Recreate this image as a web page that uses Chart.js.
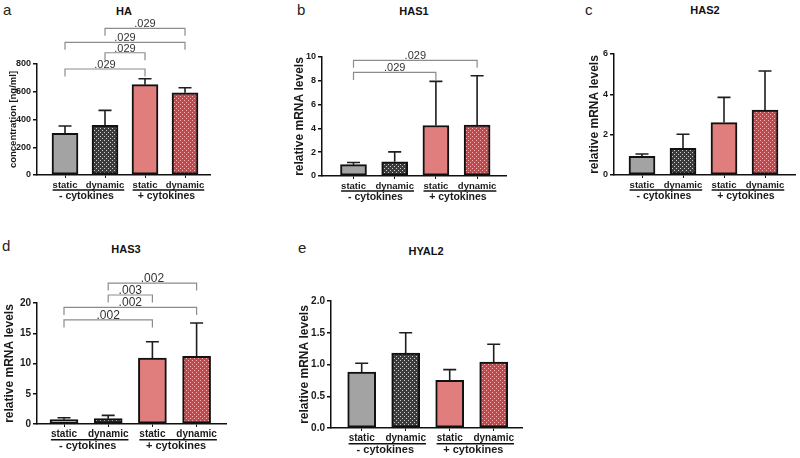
<!DOCTYPE html>
<html>
<head>
<meta charset="utf-8">
<script src="https://cdn.jsdelivr.net/npm/chart.js@4"></script>
<style>
  body { margin: 0; background: #fff; }
  #wrap { position: relative; width: 800px; height: 458px; overflow: hidden; font-family: "Liberation Sans", Arial, sans-serif; }
  canvas { position: absolute; left: 0; top: 0; }
  .letter { position: absolute; font-size: 15px; color: #222; line-height: 1; }
  .title { position: absolute; width: 120px; text-align: center; font-weight: bold; font-size: 11px; color: #111; line-height: 1; }
</style>
</head>
<body>
<div id="wrap">
  <div class="letter" style="left:3px;top:2px">a</div>
  <div class="letter" style="left:297px;top:2px">b</div>
  <div class="letter" style="left:585px;top:2px">c</div>
  <div class="letter" style="left:2px;top:238px">d</div>
  <div class="letter" style="left:298px;top:240px">e</div>
  <div class="title" style="left:64px;top:6px">HA</div>
  <div class="title" style="left:354px;top:6px">HAS1</div>
  <div class="title" style="left:645px;top:5px">HAS2</div>
  <div class="title" style="left:66px;top:244px">HAS3</div>
  <div class="title" style="left:366px;top:246px">HYAL2</div>
  <canvas id="cA" width="800" height="458"></canvas>
  <canvas id="cB" width="800" height="458"></canvas>
  <canvas id="cC" width="800" height="458"></canvas>
  <canvas id="cD" width="800" height="458"></canvas>
  <canvas id="cE" width="800" height="458"></canvas>
</div>
<script>
// ---------- data ----------
const conditions = ["static", "dynamic", "static", "dynamic"];
const cytokineGroups = ["- cytokines", "+ cytokines"];

const haMean = [300, 358, 651, 593];
const haSD = [53, 108, 43, 36];
const haTicks = [0, 200, 400, 600, 800];

const has1Mean = [0.95, 1.2, 4.24, 4.27];
const has1SD = [0.19, 0.83, 3.71, 4.15];
const has1Ticks = [0, 2, 4, 6, 8, 10];

const has2Mean = [0.93, 1.32, 2.6, 3.22];
const has2SD = [0.11, 0.7, 1.25, 1.94];
const has2Ticks = [0, 2, 4, 6];

const has3Mean = [0.72, 0.88, 10.9, 11.2];
const has3SD = [0.32, 0.55, 2.7, 5.5];
const has3Ticks = [0, 5, 10, 15, 20];

const hyal2Mean = [0.88, 1.18, 0.75, 1.04];
const hyal2SD = [0.14, 0.32, 0.17, 0.28];
const hyal2Ticks = [0, 0.5, 1.0, 1.5, 2.0];

// significance brackets: [from bar, to bar, p label, height in data units]
const haBrackets = [[1, 3, ".029", 764], [2, 3, ".029", 881], [1, 4, ".029", 956], [2, 4, ".029", 1057]];
const has1Brackets = [[1, 3, ".029", 8.7], [1, 4, ".029", 9.72]];
const has3Brackets = [[1, 3, ".002", 17.2], [1, 4, ".002", 19.27], [2, 3, ".003", 21.32], [2, 4, ".002", 23.3]];

// ---------- fills ----------
const FONT = "'Liberation Sans', Arial, sans-serif";

function makePattern(bg, dot, size, dotSize) {
    const c = document.createElement("canvas");
    c.width = c.height = size;
    const g = c.getContext("2d");
    g.fillStyle = bg;
    g.fillRect(0, 0, size, size);
    g.fillStyle = dot;
    g.fillRect(0, 0, dotSize, dotSize);
    g.fillRect(size / 2, size / 2, dotSize, dotSize);
    return g.createPattern(c, "repeat");
}

const fills = [
    "#a3a3a3",
    makePattern("#3c3c3c", "#cfcfcf", 4, 1),
    "#e07e7e",
    makePattern("#c4474c", "#f2b4b4", 4, 1)
];

// ---------- extras: error bars, brackets, group labels ----------
const extrasPlugin = {
    id: "extras",
    afterDatasetsDraw(chart, args, o) {
        const ctx = chart.ctx;
        const xs = chart.scales.x;
        const ys = chart.scales.y;
        ctx.save();

        // error bars (mean + SD)
        ctx.strokeStyle = "#1e1e1e";
        ctx.lineWidth = 1.6;
        o.mean.forEach((m, i) => {
            const px = xs.getPixelForValue(i + 1);
            const y0 = ys.getPixelForValue(m);
            const y1 = ys.getPixelForValue(m + o.sd[i]);
            ctx.beginPath();
            ctx.moveTo(px, y0);
            ctx.lineTo(px, y1);
            ctx.moveTo(px - 6.5, y1);
            ctx.lineTo(px + 6.5, y1);
            ctx.stroke();
        });

        // significance brackets
        ctx.strokeStyle = "#8c8c8c";
        ctx.lineWidth = 1.2;
        ctx.fillStyle = "#333";
        ctx.font = o.pSize + "px " + FONT;
        ctx.textAlign = "center";
        ctx.textBaseline = "alphabetic";
        o.brackets.forEach(([a, b, label, level]) => {
            const xa = xs.getPixelForValue(a);
            const xb = xs.getPixelForValue(b);
            const ly = ys.getPixelForValue(level);
            ctx.beginPath();
            ctx.moveTo(xa, ly + 7.5);
            ctx.lineTo(xa, ly);
            ctx.lineTo(xb, ly);
            ctx.lineTo(xb, ly + 7.5);
            ctx.stroke();
            ctx.fillText(label, (xa + xb) / 2, ly - 1);
        });

        // underline + cytokine group label
        ctx.strokeStyle = "#111";
        ctx.lineWidth = 1.5;
        ctx.fillStyle = "#1a1a1a";
        ctx.textBaseline = "middle";
        cytokineGroups.forEach((g, k) => {
            const i1 = k * 2, i2 = k * 2 + 1;
            const c1 = xs.getPixelForValue(i1 + 1);
            const c2 = xs.getPixelForValue(i2 + 1);
            ctx.font = "bold " + o.labelSize + "px " + FONT;
            const x1 = c1 - ctx.measureText(conditions[i1]).width / 2;
            const x2 = c2 + ctx.measureText(conditions[i2]).width / 2;
            const uy = xs.top + o.underline;
            ctx.beginPath();
            ctx.moveTo(x1, uy);
            ctx.lineTo(x2, uy);
            ctx.stroke();
            ctx.font = "bold " + o.groupSize + "px " + FONT;
            ctx.fillText(g, (x1 + x2) / 2 - 2, xs.top + o.groupY);
        });
        ctx.restore();
    }
};

// ---------- panels ----------
function drawPanel(id, mean, sd, ticks, brackets, yTitle, lay) {
    const axisH = 40;
    const padLeft = lay.titleX - lay.titleSize * 0.6;
    const xMin = 1 - (lay.firstBar - lay.left) / lay.step;
    const xMax = 1 + (lay.right - lay.firstBar) / lay.step;
    const tickFont = { family: FONT, size: lay.tickSize, weight: "bold" };

    new Chart(document.getElementById(id), {
        type: "bar",
        data: {
            datasets: [{
                data: mean.map((v, i) => ({ x: i + 1, y: v })),
                backgroundColor: fills,
                borderColor: "#111",
                borderWidth: 2,
                borderSkipped: false,
                barThickness: lay.barW
            }]
        },
        options: {
            responsive: false,
            animation: false,
            events: [],
            layout: {
                padding: {
                    left: padLeft,
                    top: lay.top,
                    right: 800 - lay.right,
                    bottom: 458 - lay.bottom - axisH
                }
            },
            plugins: {
                legend: { display: false },
                tooltip: { enabled: false },
                extras: {
                    mean: mean, sd: sd, brackets: brackets,
                    pSize: lay.pSize, labelSize: lay.labelSize, groupSize: lay.groupSize,
                    underline: lay.underline, groupY: lay.groupY
                }
            },
            scales: {
                x: {
                    type: "linear",
                    min: xMin,
                    max: xMax,
                    offset: false,
                    afterBuildTicks: s => { s.ticks = conditions.map((c, i) => ({ value: i + 1 })); },
                    afterFit: s => { s.height = axisH; s.paddingLeft = 0; s.paddingRight = 0; },
                    ticks: {
                        callback: v => conditions[Math.round(v) - 1],
                        font: { family: FONT, size: lay.labelSize, weight: "bold" },
                        color: "#1a1a1a",
                        padding: 1.5,
                        maxRotation: 0
                    },
                    grid: { offset: false, drawOnChartArea: false, tickLength: 3, color: "#111" },
                    border: { color: "#111", width: 1.5 }
                },
                y: {
                    min: 0,
                    max: ticks[ticks.length - 1],
                    afterBuildTicks: s => { s.ticks = ticks.map(v => ({ value: v })); },
                    afterFit: s => { s.width = lay.left - padLeft; s.paddingTop = 0; s.paddingBottom = 0; },
                    ticks: {
                        callback: v => lay.decimals ? v.toFixed(1) : String(v),
                        font: tickFont,
                        color: "#1a1a1a",
                        padding: 2
                    },
                    grid: { drawOnChartArea: false, tickLength: 4, color: "#111", lineWidth: 1.5 },
                    border: { color: "#111", width: 1.5 },
                    title: {
                        display: true,
                        text: yTitle,
                        color: "#1a1a1a",
                        font: { family: FONT, size: lay.titleSize, weight: "bold" },
                        padding: 0
                    }
                }
            }
        },
        plugins: [extrasPlugin]
    });
}

const topRow = { tickSize: 9, labelSize: 9.5, groupSize: 10.5, pSize: 11, underline: 15, groupY: 21, barW: 26 };
const bottomRow = { tickSize: 10, labelSize: 10, groupSize: 11, pSize: 12, underline: 15.7, groupY: 22.4, barW: 28 };

drawPanel("cA", haMean, haSD, haTicks, haBrackets, "concentration [ng/ml]",
    Object.assign({}, topRow, { left: 37, right: 210, top: 64, bottom: 175, firstBar: 65, step: 40, titleX: 13, titleSize: 9.5 }));
drawPanel("cB", has1Mean, has1SD, has1Ticks, has1Brackets, "relative mRNA levels",
    Object.assign({}, topRow, { left: 322, right: 506, top: 57, bottom: 176, firstBar: 353.5, step: 41.2, titleX: 300, titleSize: 12 }));
drawPanel("cC", has2Mean, has2SD, has2Ticks, [], "relative mRNA levels",
    Object.assign({}, topRow, { left: 614, right: 795, top: 54, bottom: 175, firstBar: 642, step: 41, titleX: 595, titleSize: 12 }));
drawPanel("cD", has3Mean, has3SD, has3Ticks, has3Brackets, "relative mRNA levels",
    Object.assign({}, bottomRow, { left: 37, right: 226, top: 303, bottom: 424, firstBar: 64, step: 44.2, titleX: 10, titleSize: 12 }));
drawPanel("cE", hyal2Mean, hyal2SD, hyal2Ticks, [], "relative mRNA levels",
    Object.assign({}, bottomRow, { left: 331, right: 522, top: 301, bottom: 428, firstBar: 361.7, step: 44, titleX: 305, titleSize: 12, decimals: true }));
</script>
</body>
</html>
